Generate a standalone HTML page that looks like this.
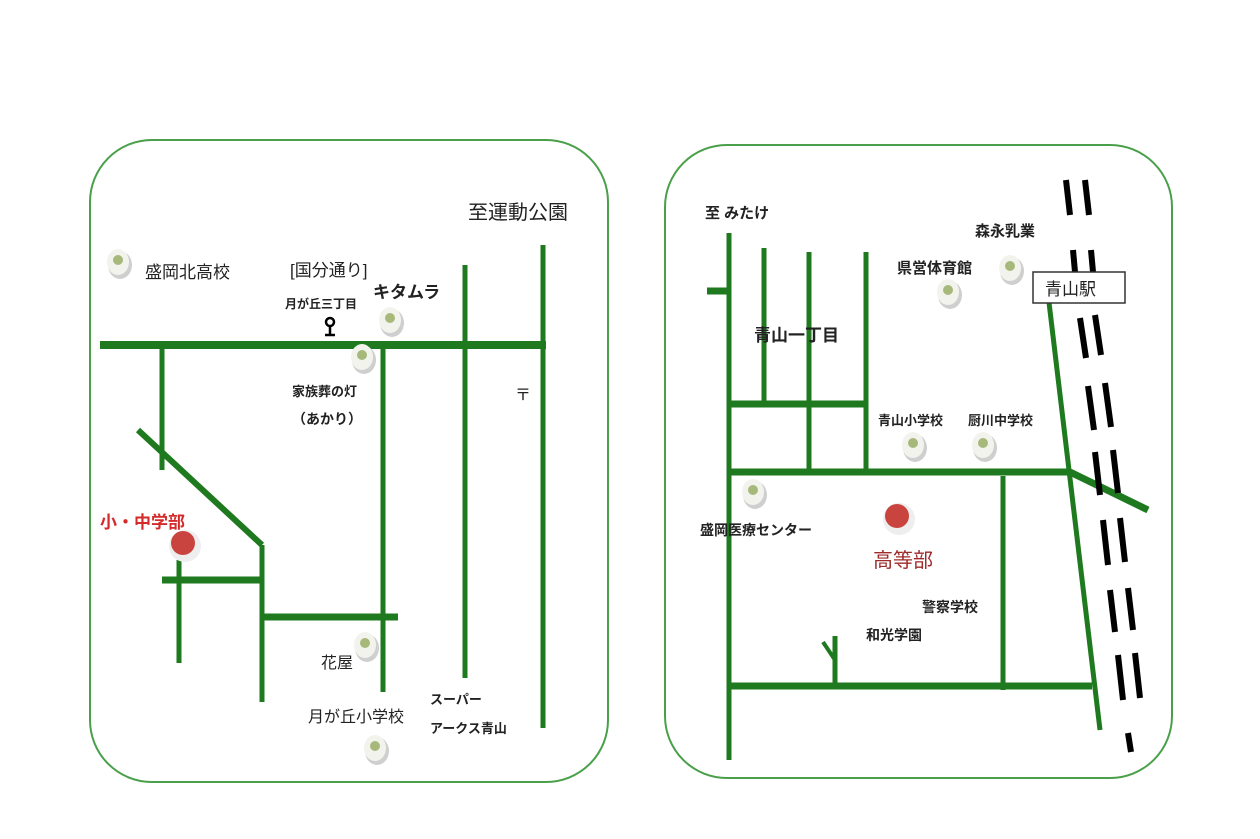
<!DOCTYPE html>
<html><head><meta charset="utf-8"><style>
html,body{margin:0;padding:0;background:#fff}
svg{display:block}
text{font-family:"Liberation Sans","Noto Sans CJK JP",sans-serif}
</style></head><body>
<svg width="1260" height="839" viewBox="0 0 1260 839" xmlns="http://www.w3.org/2000/svg">
<defs>
<g id="dot"><ellipse cx="2" cy="3" rx="12" ry="14" fill="#cfcfcf"/><ellipse cx="0" cy="0" rx="11" ry="13" fill="#f3f3ee"/><circle cx="0" cy="-2" r="5" fill="#a7b97a"/></g>
</defs>
<rect x="90" y="140" width="518" height="642" rx="62" fill="none" stroke="#4aa04a" stroke-width="2"/>
<rect x="665" y="145" width="507" height="633" rx="62" fill="none" stroke="#4aa04a" stroke-width="2"/>
<g stroke="#1f7a1f" stroke-linecap="butt" fill="none">
<line x1="100" y1="345" x2="546" y2="345" stroke-width="8"/>
<line x1="162" y1="345" x2="162" y2="470" stroke-width="5"/>
<line x1="138" y1="430" x2="262" y2="545" stroke-width="6"/>
<line x1="262" y1="545" x2="262" y2="702" stroke-width="5"/>
<line x1="162" y1="580" x2="262" y2="580" stroke-width="7"/>
<line x1="179" y1="560" x2="179" y2="663" stroke-width="5"/>
<line x1="262" y1="617" x2="398" y2="617" stroke-width="7"/>
<line x1="383" y1="345" x2="383" y2="692" stroke-width="5"/>
<line x1="465" y1="265" x2="465" y2="678" stroke-width="5"/>
<line x1="543" y1="245" x2="543" y2="728" stroke-width="5"/>

<line x1="729" y1="233" x2="729" y2="760" stroke-width="5"/>
<line x1="707" y1="291" x2="729" y2="291" stroke-width="7"/>
<line x1="764" y1="248" x2="764" y2="403" stroke-width="5"/>
<line x1="809" y1="252" x2="809" y2="470" stroke-width="5"/>
<line x1="866" y1="252" x2="866" y2="470" stroke-width="5"/>
<line x1="729" y1="404" x2="866" y2="404" stroke-width="7"/>
<line x1="729" y1="472" x2="1070" y2="472" stroke-width="7"/>
<line x1="1003" y1="476" x2="1003" y2="690" stroke-width="5"/>
<line x1="1048" y1="294" x2="1100" y2="730" stroke-width="5"/>
<line x1="1070" y1="472" x2="1148" y2="510" stroke-width="7"/>
<line x1="729" y1="686" x2="1092" y2="686" stroke-width="7"/>
<line x1="835" y1="636" x2="835" y2="686" stroke-width="5"/>
<line x1="823" y1="642" x2="835" y2="660" stroke-width="4"/>
</g>
<g stroke="#000" stroke-width="6">
<line x1="1066" y1="180" x2="1070" y2="215"/><line x1="1085" y1="180" x2="1089" y2="215"/>
<line x1="1073" y1="250" x2="1075" y2="272"/><line x1="1091" y1="250" x2="1093" y2="272"/>
<line x1="1080" y1="318" x2="1086" y2="358"/><line x1="1095" y1="315" x2="1101" y2="355"/>
<line x1="1088" y1="386" x2="1094" y2="430"/><line x1="1105" y1="383" x2="1111" y2="427"/>
<line x1="1095" y1="452" x2="1100" y2="495"/><line x1="1113" y1="450" x2="1118" y2="493"/>
<line x1="1103" y1="520" x2="1108" y2="565"/><line x1="1120" y1="518" x2="1125" y2="562"/>
<line x1="1110" y1="590" x2="1115" y2="632"/><line x1="1128" y1="588" x2="1133" y2="630"/>
<line x1="1118" y1="655" x2="1123" y2="700"/><line x1="1135" y1="653" x2="1140" y2="698"/>
<line x1="1128" y1="733" x2="1131" y2="752"/>
</g>
<use href="#dot" x="118" y="262"/><use href="#dot" x="390" y="320"/><use href="#dot" x="362" y="357"/>
<use href="#dot" x="365" y="645"/><use href="#dot" x="375" y="748"/>
<use href="#dot" x="948" y="292"/><use href="#dot" x="1010" y="268"/><use href="#dot" x="913" y="445"/>
<use href="#dot" x="983" y="445"/><use href="#dot" x="753" y="492"/>
<circle cx="185" cy="546" r="16" fill="#eee"/><circle cx="183" cy="543" r="12" fill="#c9443f"/>
<circle cx="899" cy="519" r="16" fill="#eee"/><circle cx="897" cy="516" r="12" fill="#c9443f"/>
<g stroke="#000" stroke-width="2.5" fill="none"><circle cx="330" cy="322" r="4"/><line x1="330" y1="326" x2="330" y2="334"/><line x1="325" y1="335" x2="335" y2="335"/></g>
<g fill="#222">
<text x="468" y="219" font-size="20">至運動公園</text>
<text x="145" y="278" font-size="17">盛岡北高校</text>
<text x="290" y="276" font-size="17">[国分通り]</text>
<text x="285" y="308" font-size="12" font-weight="bold">月が丘三丁目</text>
<text x="373" y="298" font-size="17" font-weight="bold">キタムラ</text>
<text x="292" y="396" font-size="13" font-weight="bold">家族葬の灯</text>
<text x="292" y="424" font-size="14" font-weight="bold">（あかり）</text>
<text x="515" y="400" font-size="16">〒</text>
<text x="321" y="668" font-size="16">花屋</text>
<text x="308" y="722" font-size="16">月が丘小学校</text>
<text x="430" y="704" font-size="13" font-weight="bold">スーパー</text>
<text x="430" y="733" font-size="13" font-weight="bold">アークス青山</text>
<text x="705" y="218" font-size="15" font-weight="bold">至 みたけ</text>
<text x="975" y="236" font-size="15" font-weight="bold">森永乳業</text>
<text x="897" y="273" font-size="15" font-weight="bold">県営体育館</text>
<text x="754" y="341" font-size="17" font-weight="bold">青山一丁目</text>
<text x="878" y="425" font-size="13" font-weight="bold">青山小学校</text>
<text x="968" y="425" font-size="13" font-weight="bold">厨川中学校</text>
<text x="700" y="535" font-size="14" font-weight="bold">盛岡医療センター</text>
<text x="922" y="612" font-size="14" font-weight="bold">警察学校</text>
<text x="866" y="640" font-size="14" font-weight="bold">和光学園</text>
</g>
<text x="100" y="528" font-size="17" font-weight="bold" fill="#d42a2a">小・中学部</text>
<text x="873" y="567" font-size="20" fill="#9e2a2a">高等部</text>
<rect x="1033" y="272" width="92" height="31" fill="#fff" stroke="#333" stroke-width="1.5"/>
<text x="1045" y="295" font-size="17" fill="#222">青山駅</text>
</svg>
</body></html>
